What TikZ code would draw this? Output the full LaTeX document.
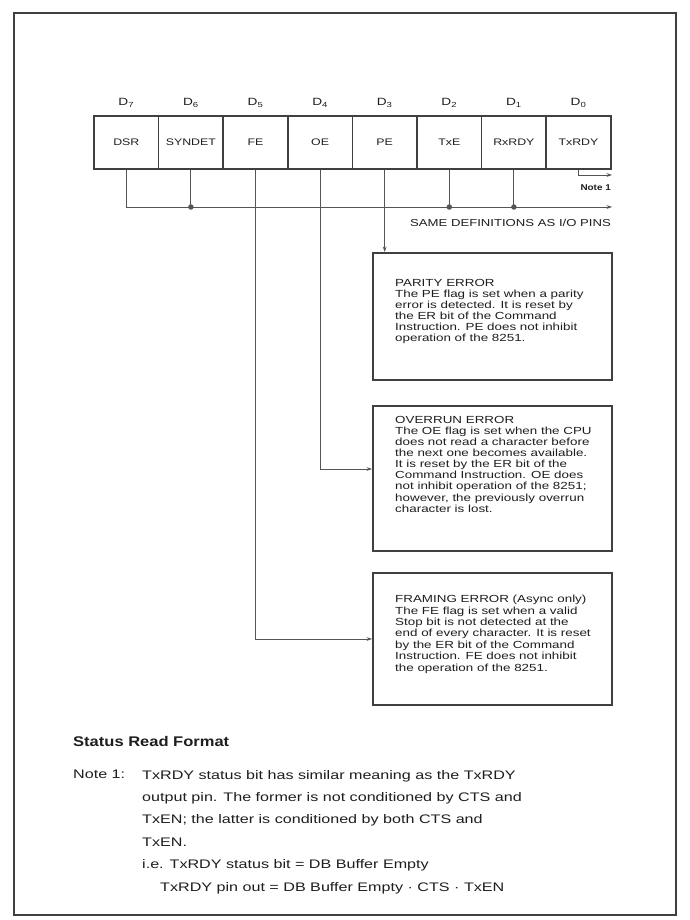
\documentclass[tikz,border=0pt]{standalone}
\usepackage{fontspec}
\setmainfont{Liberation Sans}
\newfontfamily\wfont[FakeStretch=1.3]{Liberation Sans}
\newfontfamily\hfont[FakeStretch=1.18]{Liberation Sans}
\usetikzlibrary{arrows.meta}
\definecolor{ink}{HTML}{1E1E1E}
\definecolor{lin}{HTML}{404040}
\definecolor{thin}{HTML}{555555}
\begin{document}
\begin{tikzpicture}[x=1pt,y=-1pt,
  every node/.style={inner sep=0pt, text=ink},
  cell/.style={draw=lin, line width=1.6pt, minimum width=64.6pt, minimum height=53pt, font=\wfont\fontsize{9.5}{11}\selectfont},
  dlab/.style={font=\wfont\fontsize{10.5}{12}\selectfont},
  conn/.style={draw=thin, line width=0.9pt},
  arr/.style={conn, -{Stealth[length=5.5pt,width=3.8pt]}},
  jdot/.style={circle, fill=thin, minimum size=5.5pt},
  errbox/.style={draw=lin, line width=2pt, anchor=north west, minimum width=239pt},
  boxtext/.style={anchor=north west, align=left, font=\wfont\fontsize{10.3}{11.1}\selectfont},
  notetext/.style={anchor=north west, align=left, font=\wfont\fontsize{12.4}{22.4}\selectfont},
]
\useasboundingbox (0,0) rectangle (689,920);
\fill[white] (0,0) rectangle (689,920);
\draw[lin, line width=2pt] (14,13) rectangle (676,915);

% register cells
\node[cell] (d7) at (126.3,142.5) {DSR};
\node[cell] (d6) at (190.9,142.5) {SYNDET};
\node[cell] (d5) at (255.5,142.5) {FE};
\node[cell] (d4) at (320.1,142.5) {OE};
\node[cell] (d3) at (384.7,142.5) {PE};
\node[cell] (d2) at (449.3,142.5) {TxE};
\node[cell] (d1) at (513.9,142.5) {RxRDY};
\node[cell] (d0) at (578.5,142.5) {TxRDY};

% bit labels
\node[dlab] (l7) at (126.3,103) {D\textsubscript{7}};
\node[dlab] (l6) at (190.9,103) {D\textsubscript{6}};
\node[dlab] (l5) at (255.5,103) {D\textsubscript{5}};
\node[dlab] (l4) at (320.1,103) {D\textsubscript{4}};
\node[dlab] (l3) at (384.7,103) {D\textsubscript{3}};
\node[dlab] (l2) at (449.3,103) {D\textsubscript{2}};
\node[dlab] (l1) at (513.9,103) {D\textsubscript{1}};
\node[dlab] (l0) at (578.5,103) {D\textsubscript{0}};

% error boxes
\node[errbox, minimum height=127pt] (pe) at (372,252) {};
\node[errbox, minimum height=145pt] (oe) at (372,405) {};
\node[errbox, minimum height=132pt] (fe) at (372,572) {};

\node[boxtext] (petxt) at (395,279) {PARITY ERROR\\
The PE flag is set when a parity\\
error is detected. It is reset by\\
the ER bit of the Command\\
Instruction. PE does not inhibit\\
operation of the 8251.};

\node[boxtext] (oetxt) at (395,416) {OVERRUN ERROR\\
The OE flag is set when the CPU\\
does not read a character before\\
the next one becomes available.\\
It is reset by the ER bit of the\\
Command Instruction. OE does\\
not inhibit operation of the 8251;\\
however, the previously overrun\\
character is lost.};

\node[boxtext, font=\wfont\fontsize{10.3}{11.4}\selectfont] (fetxt) at (395,595) {FRAMING ERROR (Async only)\\
The FE flag is set when a valid\\
Stop bit is not detected at the\\
end of every character. It is reset\\
by the ER bit of the Command\\
Instruction. FE does not inhibit\\
the operation of the 8251.};

% connectors
\coordinate (busend) at (612,207);
\coordinate (txend) at (612,175);
\coordinate (oein) at (372,469);
\draw[arr] (d7.south) |- (busend);
\draw[conn] (d6.south) -- (d6.south |- busend) node[jdot] (j6) {};
\draw[conn] (d2.south) -- (d2.south |- busend) node[jdot] (j2) {};
\draw[conn] (d1.south) -- (d1.south |- busend) node[jdot] (j1) {};
\draw[arr] (d0.south) |- (txend);
\draw[arr] (d3.south) -- (d3.south |- pe.north);
\draw[arr] (d4.south) |- (oein);
\draw[arr] (d5.south) |- (fe.west);

\node[anchor=east, font=\hfont\bfseries\fontsize{8.4}{9}\selectfont] (note1tag) at (611,188) {Note 1};
\node[anchor=east, font=\wfont\fontsize{10.1}{12}\selectfont] (same) at (611,223) {SAME DEFINITIONS AS I/O PINS};

% bottom text
\node[anchor=west, font=\hfont\bfseries\fontsize{14}{16}\selectfont] (title) at (73,741) {Status Read Format};
\node[notetext] (notelab) at (73,770) {Note 1:};
\node[notetext] (notebody) at (142,770) {TxRDY status bit has similar meaning as the TxRDY\\
output pin. The former is not conditioned by CTS and\\
TxEN; the latter is conditioned by both CTS and\\
TxEN.\\
i.e. TxRDY status bit = DB Buffer Empty\\
\hspace*{18pt}TxRDY pin out = DB Buffer Empty · CTS · TxEN};
\end{tikzpicture}
\end{document}
